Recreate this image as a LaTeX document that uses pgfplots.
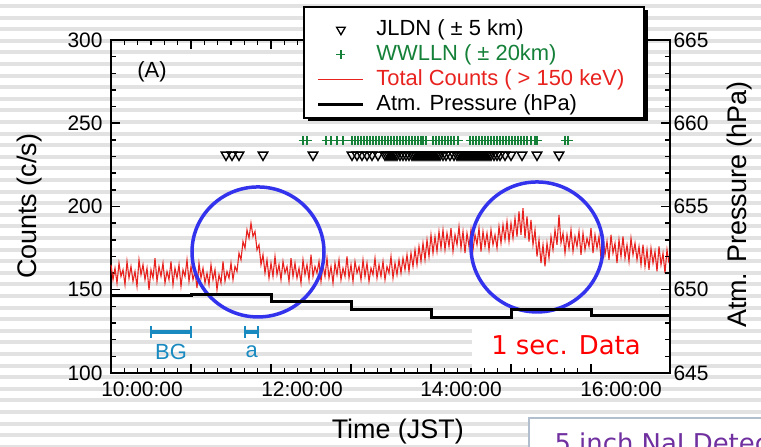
\documentclass[border=0pt]{standalone}
\usepackage{fontspec}
\setmainfont{Liberation Sans}
\newfontfamily\dejavu{DejaVu Sans}
\usepackage{pgfplots}
\usepackage{pgfplotstable}
\pgfplotsset{compat=1.18}
\definecolor{cred}{RGB}{232,34,30}
\definecolor{cgreen}{RGB}{20,128,56}
\definecolor{cblue}{RGB}{51,51,238}
\definecolor{ccyan}{RGB}{24,138,192}
\definecolor{cpurple}{RGB}{112,48,160}
\definecolor{cstripe}{RGB}{226,226,226}
\definecolor{cbox}{RGB}{176,190,205}

\newcommand{\legspace}{\pgfpathmoveto{\pgfpointorigin}\pgfpathlineto{\pgfpoint{57bp}{0bp}}\pgfusepath{}}
\pgfplotsset{
  lineleg/.style={legend image code/.code={\legspace \draw[##1] (0bp,0bp) -- (45bp,0bp);}},
  markleg/.style={legend image code/.code={\legspace \draw[##1] plot coordinates {(22.5bp,0bp)};}},
}

\pgfplotstableread{
h c
9.000 165
9.025 156
9.050 163
9.075 154
9.100 166
9.125 158
9.150 162
9.175 153
9.200 167
9.225 157
9.250 164
9.275 155
9.300 161
9.325 152
9.350 168
9.375 159
9.400 165
9.425 156
9.450 163
9.475 150
9.500 162
9.525 157
9.550 169
9.575 155
9.600 164
9.625 158
9.650 166
9.675 154
9.700 161
9.725 156
9.750 167
9.775 153
9.800 163
9.825 157
9.850 165
9.875 152
9.900 162
9.925 158
9.950 168
9.975 155
10.000 164
10.025 156
10.050 161
10.075 151
10.100 166
10.125 157
10.150 163
10.175 154
10.200 160
10.225 153
10.250 165
10.275 156
10.300 162
10.325 150
10.350 159
10.375 154
10.400 167
10.425 155
10.450 161
10.475 157
10.500 166
10.525 156
10.550 164
10.575 161
10.600 172
10.625 168
10.650 179
10.675 175
10.700 186
10.725 181
10.750 190
10.775 182
10.800 185
10.825 174
10.850 177
10.875 165
10.900 171
10.925 160
10.950 168
10.975 157
11.000 166
11.025 158
11.050 170
11.075 159
11.100 165
11.125 156
11.150 167
11.175 160
11.200 164
11.225 155
11.250 169
11.275 158
11.300 166
11.325 157
11.350 163
11.375 154
11.400 168
11.425 159
11.450 165
11.475 156
11.500 171
11.525 158
11.550 164
11.575 160
11.600 167
11.625 155
11.650 165
11.675 158
11.700 169
11.725 157
11.750 164
11.775 154
11.800 166
11.825 159
11.850 168
11.875 156
11.900 163
11.925 158
11.950 170
11.975 157
12.000 165
12.025 155
12.050 167
12.075 160
12.100 164
12.125 156
12.150 168
12.175 158
12.200 166
12.225 155
12.250 163
12.275 159
12.300 169
12.325 157
12.350 165
12.375 158
12.400 167
12.425 156
12.450 164
12.475 160
12.500 170
12.525 157
12.550 166
12.575 159
12.600 168
12.625 160
12.650 169
12.675 162
12.700 171
12.725 161
12.750 172
12.775 164
12.800 174
12.825 165
12.850 176
12.875 167
12.900 178
12.925 168
12.950 180
12.975 170
13.000 183
13.025 172
13.050 182
13.075 173
13.100 185
13.125 175
13.150 186
13.175 174
13.200 184
13.225 176
13.250 187
13.275 173
13.300 183
13.325 177
13.350 188
13.375 175
13.400 185
13.425 172
13.450 184
13.475 176
13.500 186
13.525 174
13.550 183
13.575 177
13.600 187
13.625 173
13.650 185
13.675 176
13.700 184
13.725 174
13.750 186
13.775 177
13.800 183
13.825 175
13.850 188
13.875 178
13.900 189
13.925 180
13.950 191
13.975 179
14.000 190
14.025 181
14.050 193
14.075 182
14.100 197
14.125 183
14.150 199
14.175 181
14.200 194
14.225 179
14.250 192
14.275 177
14.300 186
14.325 170
14.350 180
14.375 166
14.400 177
14.425 164
14.450 178
14.475 169
14.500 182
14.525 174
14.550 186
14.575 177
14.600 195
14.625 178
14.650 184
14.675 172
14.700 183
14.725 175
14.750 186
14.775 173
14.800 182
14.825 176
14.850 185
14.875 171
14.900 184
14.925 174
14.950 181
14.975 176
15.000 187
15.025 172
15.050 183
15.075 175
15.100 182
15.125 169
15.150 181
15.175 171
15.200 179
15.225 168
15.250 183
15.275 172
15.300 178
15.325 166
15.350 180
15.375 170
15.400 182
15.425 169
15.450 177
15.475 167
15.500 181
15.525 171
15.550 178
15.575 168
15.600 176
15.625 165
15.650 177
15.675 164
15.700 174
15.725 162
15.750 175
15.775 166
15.800 173
15.825 161
15.850 176
15.875 165
15.900 172
15.925 160
15.950 174
15.975 166
}\counts

\pgfplotstableread{
h p
9.0 649.68
10.0 649.73
11.0 649.31
12.0 648.83
13.0 648.35
14.0 648.84
15.0 648.44
15.9875 648.44
}\press

\pgfplotstableread{
h c
10.4375 231
10.5125 231
10.6 231
10.9 231
11.525 231
12.0125 231
12.075 231
12.1375 231
12.2 231
12.2625 231
12.3375 231
12.425 231
12.45 231
12.475 231
12.5 231
12.525 231
12.55 231
12.575 231
12.6125 231
12.65 231
12.6875 231
12.725 231
12.7625 231
12.7875 231
12.8125 231
12.8375 231
12.8625 231
12.8875 231
12.9125 231
12.9375 231
12.9625 231
12.9875 231
13.0125 231
13.0375 231
13.0625 231
13.0875 231
13.1125 231
13.15 231
13.1875 231
13.2375 231
13.2875 231
13.325 231
13.35 231
13.375 231
13.4 231
13.425 231
13.45 231
13.475 231
13.5 231
13.525 231
13.55 231
13.575 231
13.6 231
13.625 231
13.65 231
13.675 231
13.7 231
13.725 231
13.75 231
13.7875 231
13.825 231
13.8625 231
13.925 231
14.0 231
14.1375 231
14.325 231
14.6 231
}\jldn

\pgfplotstableread{
h c
11.4 239.5
11.45 239.5
11.6875 239.5
11.75 239.5
11.825 239.5
11.9 239.5
12.0125 239.5
12.05 239.5
12.0875 239.5
12.125 239.5
12.1625 239.5
12.2 239.5
12.2375 239.5
12.275 239.5
12.3125 239.5
12.35 239.5
12.3875 239.5
12.425 239.5
12.4625 239.5
12.5 239.5
12.5375 239.5
12.575 239.5
12.6125 239.5
12.65 239.5
12.6875 239.5
12.725 239.5
12.7625 239.5
12.8 239.5
12.8375 239.5
12.875 239.5
12.9 239.5
12.9375 239.5
13.025 239.5
13.0625 239.5
13.1 239.5
13.1375 239.5
13.175 239.5
13.2125 239.5
13.25 239.5
13.2875 239.5
13.3375 239.5
13.4875 239.5
13.525 239.5
13.5625 239.5
13.6 239.5
13.6375 239.5
13.675 239.5
13.7125 239.5
13.75 239.5
13.7875 239.5
13.825 239.5
13.8625 239.5
13.9 239.5
13.9375 239.5
13.975 239.5
14.0125 239.5
14.05 239.5
14.0875 239.5
14.125 239.5
14.1625 239.5
14.2 239.5
14.25 239.5
14.3 239.5
14.325 239.5
14.675 239.5
14.7125 239.5
}\wwlln

\begin{document}
\begin{tikzpicture}
\useasboundingbox (0,0) rectangle (761bp,447bp);
\clip (0,0) rectangle (761bp,447bp);
\fill[white] (0,0) rectangle (761bp,447bp);
\foreach \k in {0,...,38}{
  \pgfmathsetmacro{\yc}{447-(6+11.6*\k)}
  \fill[cstripe] (0bp,\yc bp-2bp) rectangle (761bp,\yc bp+2bp);
}
% white box behind the "1 sec. Data" label
\fill[white] (472bp,74bp) rectangle (670bp,125bp);
\node[font=\dejavu\fontsize{26}{30}\selectfont, text=red] at (566bp,102bp) {1 sec. Data};
% lower right box
\draw[cbox, line width=1.2bp, fill=white] (529bp,29bp) rectangle (800bp,-20bp);
\node[font=\dejavu\fontsize{26}{30}\selectfont, text=cpurple, anchor=base west] at (551bp,-5bp) {5 inch NaI Detector};

\begin{axis}[
  at={(111bp,74bp)}, anchor=south west, scale only axis,
  width=559bp, height=333bp,
  xmin=9, xmax=15.9875, ymin=100, ymax=300,
  xtick={9,10,...,15}, xticklabels={}, minor x tick num=5,
  extra x ticks={9.3875,11.3875,13.375,15.375},
  extra x tick labels={10:00:00,12:00:00,14:00:00,16:00:00},
  extra x tick style={major tick length=0pt, tick label style={yshift=-5bp}},
  ytick={100,150,...,300}, minor y tick num=4,
  ytick pos=left, xtick pos=both,
  tick align=inside, major tick length=9bp, minor tick length=5bp,
  every tick/.style={black, line width=1.5bp},
  axis line style={line width=2.5bp},
  tick label style={font=\fontsize{21}{25}\selectfont},
  yticklabel style={xshift=-5bp},
  /pgf/number format/assume math mode=true,
  xlabel={Time (JST)},
  xlabel style={at={(axis description cs:0.513,-0.177)}, anchor=center, font=\fontsize{27}{32}\selectfont},
  ylabel={Counts (c/s)},
  ylabel style={at={(axis description cs:-0.145,0.5)}, anchor=center, rotate=0, font=\fontsize{27}{32}\selectfont},
  clip=false,
]
\addplot[cred, line width=1.1bp] table[x=h, y=c] {\counts};
\addplot[only marks, mark=triangle, mark size=5.5bp, mark options={rotate=180, black, line width=1.4bp, fill=none}] table[x=h, y=c] {\jldn};
\addplot[only marks, mark=+, mark size=4.5bp, cgreen, mark options={line width=1.4bp}] table[x=h, y=c] {\wwlln};
\addplot[ccyan, line width=4bp, mark=|, mark size=6bp, mark options={line width=1.8bp}] coordinates {(9.5,124.6) (10.0,124.6)};
\addplot[ccyan, line width=4bp, mark=|, mark size=6bp, mark options={line width=1.8bp}] coordinates {(10.675,124.6) (10.8375,124.6)};
\node[text=ccyan, font=\fontsize{22}{26}\selectfont] at (axis cs:9.75,112.6) {BG};
\node[text=ccyan, font=\fontsize{22}{26}\selectfont] at (axis cs:10.76,112.6) {a};
\node[font=\fontsize{22}{26}\selectfont] at (axis cs:9.5125,280.8) {(A)};
\draw[cblue, line width=3.5bp] (axis cs:10.8375,172.7) ellipse (66bp and 65bp);
\draw[cblue, line width=3.5bp] (axis cs:14.325,175.7) ellipse (66bp and 65bp);
\end{axis}

% legend frame with its shadow
\fill[black] (308bp,326bp) rectangle (648bp,437bp);
\draw[black, line width=2bp, fill=white] (304bp,329bp) rectangle (644bp,440bp);

\begin{axis}[
  at={(111bp,74bp)}, anchor=south west, scale only axis,
  width=559bp, height=333bp,
  xmin=9, xmax=15.9875, ymin=645, ymax=665,
  hide x axis, axis y line*=right,
  ytick={645,650,...,665}, minor y tick num=4,
  tick align=inside, major tick length=9bp, minor tick length=5bp,
  every tick/.style={black, line width=1.5bp},
  axis line style={line width=2.5bp},
  tick label style={font=\fontsize{21}{25}\selectfont},
  /pgf/number format/assume math mode=true,
  ylabel={Atm. Pressure (hPa)},
  ylabel style={at={(axis description cs:1.125,0.505)}, anchor=center, rotate=0, font=\fontsize{27}{32}\selectfont},
  legend style={at={(axis description cs:0.3685,1.066)}, anchor=north west,
    draw=none, fill=none,
    font=\fontsize{22}{26}\selectfont,
    inner sep=0bp, row sep=2bp,
    nodes={inner sep=1bp, text height=16bp, text depth=5bp}},
  legend cell align=left,
  clip=false,
]
\addplot[black, line width=3bp, const plot, forget plot] table[x=h, y=p] {\press};
\addlegendimage{markleg, only marks, mark=triangle, mark size=5bp, mark options={rotate=180, black, line width=1.3bp}}
\addlegendentry{JLDN ( ± 5 km)}
\addlegendimage{markleg, only marks, mark=+, mark size=4.5bp, cgreen, mark options={line width=1.3bp}}
\addlegendentry{\textcolor{cgreen}{WWLLN ( ± 20km)}}
\addlegendimage{lineleg, cred, line width=1.5bp}
\addlegendentry{\textcolor{cred}{Total Counts ( > 150 keV)}}
\addlegendimage{lineleg, black, line width=2.5bp}
\addlegendentry{Atm. Pressure (hPa)}
\end{axis}
\end{tikzpicture}
\end{document}
